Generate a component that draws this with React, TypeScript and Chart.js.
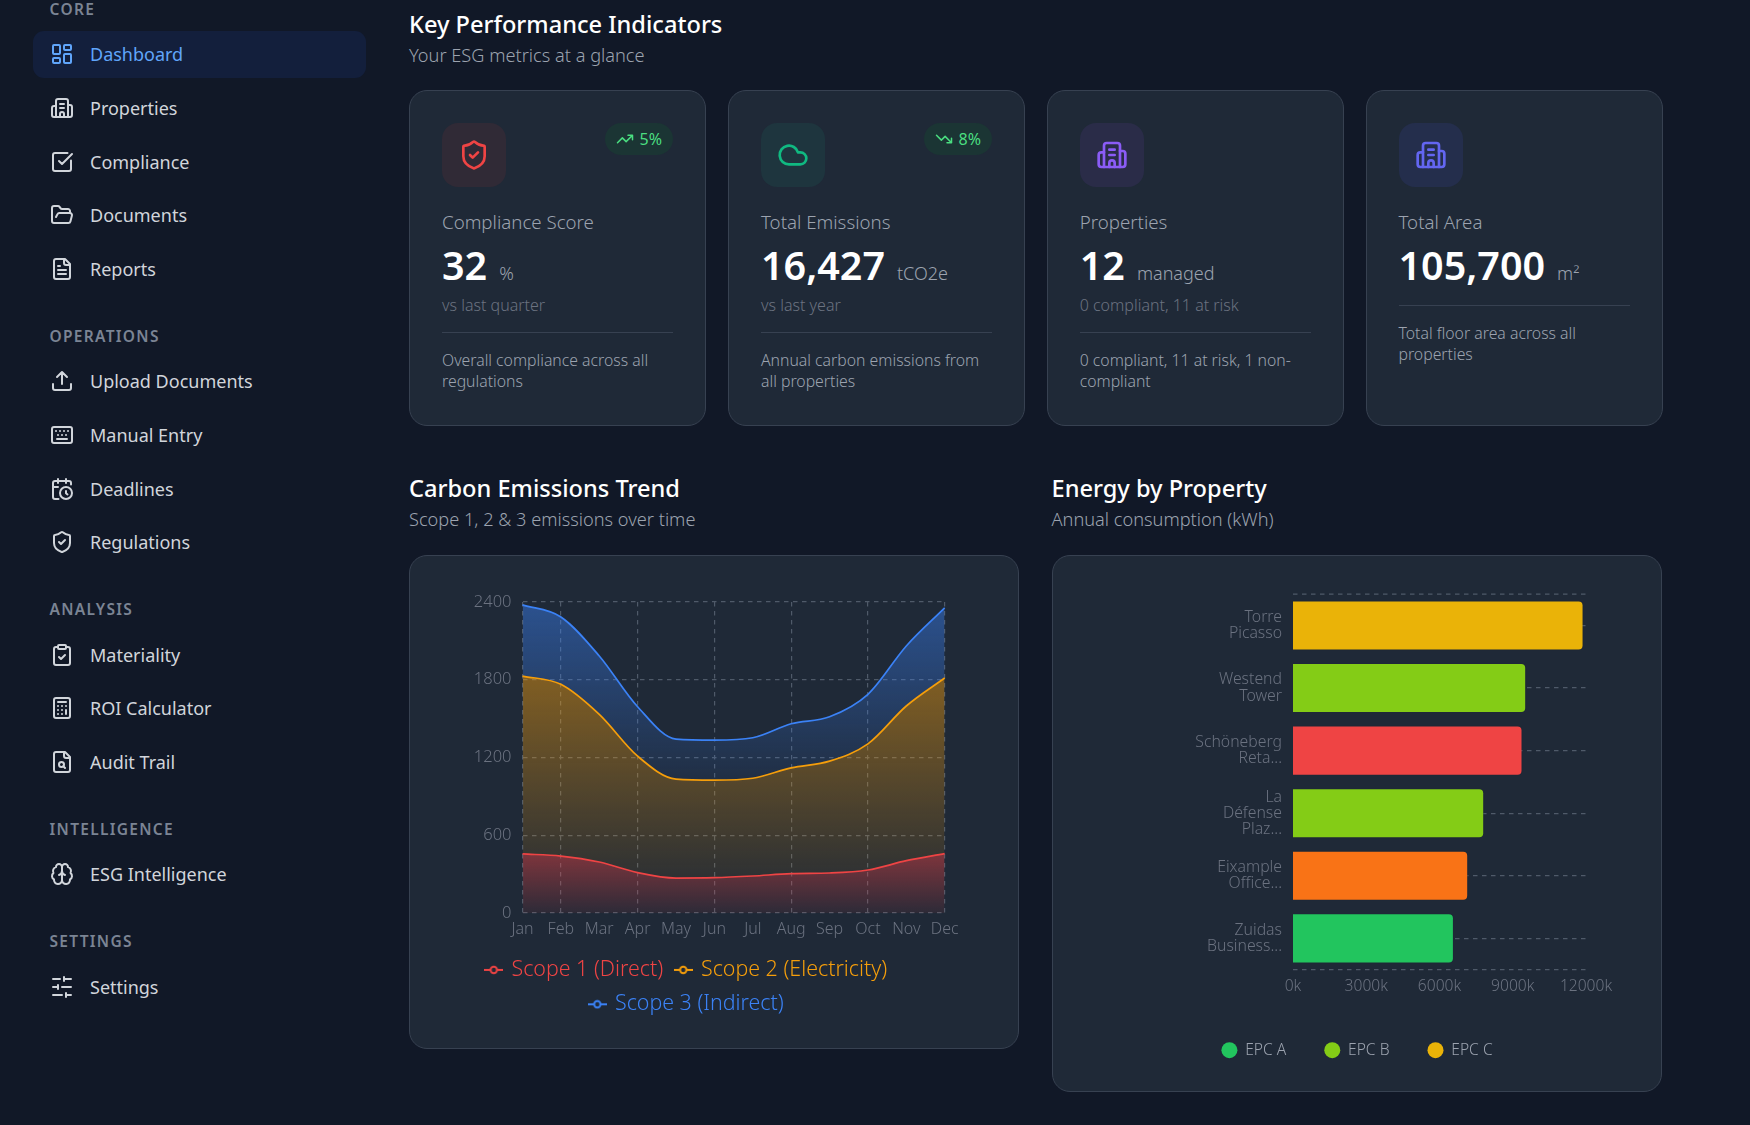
import React, { useEffect, useRef } from "react";
import { Chart, registerables } from "chart.js";

Chart.register(...registerables);

const FONT = '"Noto Sans", sans-serif';
Chart.defaults.font.family = FONT;

// carbon trend, tCO2e per month
const months = ["Jan", "Feb", "Mar", "Apr", "May", "Jun", "Jul", "Aug", "Sep", "Oct", "Nov", "Dec"];
const scope1 = [456, 440, 394, 312, 270, 273, 286, 304, 309, 332, 404, 458];
const scope2 = [1372, 1324, 1138, 898, 763, 752, 754, 816, 863, 973, 1193, 1355];
const scope3 = [549, 520, 451, 381, 309, 309, 312, 340, 342, 382, 463, 541];
const gridMonths = ["Jan", "Feb", "Apr", "Jun", "Aug", "Oct", "Dec"];

// energy per property, thousand kWh
const properties = [
  ["Torre", "Picasso"],
  ["Westend", "Tower"],
  ["Schöneberg", "Reta..."],
  ["La", "Défense", "Plaz..."],
  ["Eixample", "Office..."],
  ["Zuidas", "Business..."],
];
const energy = [11900, 9550, 9400, 7830, 7175, 6590];
const epcRatings = ["C", "B", "E", "B", "D", "A"];
const epcColors: Record<string, string> = {
  A: "#22c55e",
  B: "#84cc16",
  C: "#eab308",
  D: "#f97316",
  E: "#ef4444",
};
const epcLegend = ["A", "B", "C"];

const GRID = "#4f5a69";
const TICK = "#6b7280";
const DASH = [4.5, 4.5];

function legendIcon(color: string) {
  const c = document.createElement("canvas");
  c.width = 19;
  c.height = 10;
  const g = c.getContext("2d")!;
  g.strokeStyle = color;
  g.lineWidth = 2;
  g.beginPath();
  g.moveTo(0, 5);
  g.lineTo(19, 5);
  g.stroke();
  g.fillStyle = "#1f2937";
  g.beginPath();
  g.arc(9.5, 5, 3.2, 0, Math.PI * 2);
  g.fill();
  g.stroke();
  return c;
}

function hexA(hex: string, a: number) {
  const n = parseInt(hex.slice(1), 16);
  return `rgba(${n >> 16},${(n >> 8) & 255},${n & 255},${a})`;
}

// each area's gradient runs over its own band, from the top of the line to the lowest lower edge
function areaFill(color: string, upper: number[], lower: number[] | null) {
  return (ctx: any) => {
    const { chartArea, scales } = ctx.chart;
    if (!chartArea) return hexA(color, 0.3);
    const y0 = scales.y.getPixelForValue(Math.max(...upper));
    const y1 = scales.y.getPixelForValue(lower ? Math.min(...lower) : 0);
    const g = ctx.chart.ctx.createLinearGradient(0, y0, 0, y1);
    g.addColorStop(0, hexA(color, 0.46));
    g.addColorStop(1, hexA(color, 0.07));
    return g;
  };
}

function EmissionsChart() {
  const ref = useRef<HTMLCanvasElement>(null);
  useEffect(() => {
    const s2top = scope1.map((v, i) => v + scope2[i]);
    const s3top = s2top.map((v, i) => v + scope3[i]);
    const series = [
      { label: "Scope 1 (Direct)", data: scope1, color: "#ef4444", fill: "origin", bg: areaFill("#ef4444", scope1, null) },
      { label: "Scope 2 (Electricity)", data: scope2, color: "#f59e0b", fill: "-1", bg: areaFill("#f59e0b", s2top, scope1) },
      { label: "Scope 3 (Indirect)", data: scope3, color: "#3b82f6", fill: "-1", bg: areaFill("#3b82f6", s3top, s2top) },
    ];
    const chart = new Chart(ref.current!, {
      type: "line",
      data: {
        labels: months,
        datasets: series.map((s) => ({
          label: s.label,
          data: s.data,
          borderColor: s.color,
          backgroundColor: s.bg,
          fill: s.fill,
          borderWidth: 1.7,
          pointRadius: 0,
          cubicInterpolationMode: "monotone",
        })),
      },
      options: {
        responsive: false,
        animation: false,
        scales: {
          x: {
            grid: {
              color: (c: any) => (gridMonths.includes(months[c.index]) ? GRID : "transparent"),
              lineWidth: 1.2,
              tickColor: "transparent",
              tickLength: 5.6,
            },
            border: { display: false, dash: DASH },
            // empty title only keeps a gap between the month labels and the legend
            title: { display: true, text: " ", font: { size: 4.6 }, padding: 0 },
            ticks: { color: TICK, font: { size: 16, weight: 300 }, padding: 1.4, maxRotation: 0, autoSkip: false },
          },
          y: {
            stacked: true,
            min: 0,
            max: 2400,
            afterFit: (s: any) => {
              s.width = 108.5;
            },
            grid: { color: GRID, lineWidth: 1.2, drawTicks: false },
            border: { display: false, dash: DASH },
            ticks: { color: TICK, stepSize: 600, font: { size: 16.5, weight: 300 }, padding: 11, callback: (v: any) => `${v}` },
          },
        },
        plugins: {
          tooltip: { enabled: false },
          legend: {
            position: "bottom",
            labels: {
              padding: 13,
              usePointStyle: true,
              pointStyleWidth: 14,
              font: { size: 21.4, weight: 300 },
              generateLabels: () =>
                series.map((s, i) => ({
                  text: s.label,
                  fontColor: s.color,
                  pointStyle: legendIcon(s.color),
                  datasetIndex: i,
                  lineWidth: 0,
                })),
            },
          },
        },
      },
    } as any);
    return () => chart.destroy();
  }, []);
  return <canvas ref={ref} width={546} height={444} style={{ position: "absolute", left: 414, top: 581 }} />;
}

const edgeLines = {
  id: "edgeLines",
  beforeDatasetsDraw(chart: any) {
    const { ctx, chartArea } = chart;
    ctx.save();
    ctx.strokeStyle = GRID;
    ctx.lineWidth = 1.2;
    ctx.setLineDash(DASH);
    for (const y of [chartArea.top, chartArea.bottom]) {
      ctx.beginPath();
      ctx.moveTo(chartArea.left, y);
      ctx.lineTo(chartArea.right, y);
      ctx.stroke();
    }
    ctx.restore();
  },
};

function EnergyChart() {
  const ref = useRef<HTMLCanvasElement>(null);
  useEffect(() => {
    const chart = new Chart(ref.current!, {
      type: "bar",
      data: {
        labels: properties,
        datasets: [
          {
            label: "Energy",
            data: energy,
            backgroundColor: epcRatings.map((r) => epcColors[r]),
            borderColor: "rgba(31,41,55,0.45)",
            borderWidth: 1,
            borderRadius: { topRight: 5, bottomRight: 5 },
            borderSkipped: "left",
            barPercentage: 0.8,
            categoryPercentage: 1,
          },
        ],
      },
      options: {
        indexAxis: "y",
        responsive: false,
        animation: false,
        layout: { padding: { left: 43, right: 43 } },
        scales: {
          x: {
            min: 0,
            max: 12000,
            grid: { display: false, drawTicks: false },
            border: { display: false },
            ticks: {
              color: TICK,
              stepSize: 3000,
              font: { size: 15.6, weight: 300 },
              padding: 8,
              maxRotation: 0,
              callback: (v: any) => `${v}k`,
            },
          },
          y: {
            afterFit: (s: any) => {
              s.width = 165;
            },
            grid: { color: GRID, lineWidth: 1.2, offset: false, drawTicks: false },
            border: { display: false, dash: DASH },
            ticks: { color: TICK, font: { size: 15.8, weight: 300, lineHeight: 1.02 }, padding: 11, autoSkip: false },
          },
        },
        plugins: {
          tooltip: { enabled: false },
          legend: {
            position: "bottom",
            labels: {
              padding: 38,
              usePointStyle: true,
              pointStyleWidth: 16,
              boxHeight: 11.3,
              font: { size: 15.6, weight: 300 },
              generateLabels: () =>
                epcLegend.map((r) => ({
                  text: `EPC ${r}`,
                  fontColor: "#9ca3af",
                  fillStyle: epcColors[r],
                  strokeStyle: epcColors[r],
                  pointStyle: "circle",
                  lineWidth: 0,
                })),
            },
          },
        },
      },
      plugins: [edgeLines],
    } as any);
    return () => chart.destroy();
  }, []);
  return <canvas ref={ref} width={544} height={501} style={{ position: "absolute", left: 1085, top: 567 }} />;
}

const ICONS: Record<string, React.ReactNode> = {
  dashboard: (
    <>
      <rect x="3" y="3" width="7" height="9" rx="1" />
      <rect x="14" y="3" width="7" height="5" rx="1" />
      <rect x="14" y="12" width="7" height="9" rx="1" />
      <rect x="3" y="16" width="7" height="5" rx="1" />
    </>
  ),
  building: (
    <>
      <path d="M10 12h4M10 8h4M14 21v-3a2 2 0 0 0-4 0v3" />
      <path d="M6 10H4a2 2 0 0 0-2 2v7a2 2 0 0 0 2 2h16a2 2 0 0 0 2-2V11a2 2 0 0 0-2-2h-2" />
      <path d="M6 21V5a2 2 0 0 1 2-2h8a2 2 0 0 1 2 2v16" />
    </>
  ),
  check: <path d="M21 10.5V19a2 2 0 0 1-2 2H5a2 2 0 0 1-2-2V5a2 2 0 0 1 2-2h12.5M9 11l3 3L22 4" />,
  folder: (
    <path d="m6 14 1.5-2.9A2 2 0 0 1 9.24 10H20a2 2 0 0 1 1.94 2.5l-1.54 6a2 2 0 0 1-1.95 1.5H4a2 2 0 0 1-2-2V5a2 2 0 0 1 2-2h3.9a2 2 0 0 1 1.69.9l.81 1.2a2 2 0 0 0 1.67.9H18a2 2 0 0 1 2 2v2" />
  ),
  file: (
    <>
      <path d="M15 2H6a2 2 0 0 0-2 2v16a2 2 0 0 0 2 2h12a2 2 0 0 0 2-2V7Z" />
      <path d="M14 2v4a2 2 0 0 0 2 2h4M10 9H8M16 13H8M16 17H8" />
    </>
  ),
  upload: <path d="M21 15v4a2 2 0 0 1-2 2H5a2 2 0 0 1-2-2v-4M17 8l-5-5-5 5M12 3v12" />,
  keyboard: (
    <>
      <rect x="2" y="4" width="20" height="16" rx="2" />
      <path d="M6 8h.01M10 8h.01M14 8h.01M18 8h.01M8 12h.01M12 12h.01M16 12h.01M7 16h10" />
    </>
  ),
  calendar: (
    <>
      <path d="M21 7.5V6a2 2 0 0 0-2-2H5a2 2 0 0 0-2 2v14a2 2 0 0 0 2 2h3.5M16 2v4M8 2v4M3 10h5M17.5 17.5 16 16.3V14" />
      <circle cx="16" cy="16" r="6" />
    </>
  ),
  shield: (
    <path d="M20 13c0 5-3.5 7.5-7.66 8.95a1 1 0 0 1-.67-.01C7.5 20.5 4 18 4 13V6a1 1 0 0 1 1-1c2 0 4.5-1.2 6.24-2.72a1.17 1.17 0 0 1 1.52 0C14.51 3.81 17 5 19 5a1 1 0 0 1 1 1zM9 12l2 2 4-4" />
  ),
  clipboard: (
    <>
      <rect x="8" y="2" width="8" height="4" rx="1" />
      <path d="M16 4h2a2 2 0 0 1 2 2v14a2 2 0 0 1-2 2H6a2 2 0 0 1-2-2V6a2 2 0 0 1 2-2h2M9 14l2 2 4-4" />
    </>
  ),
  calculator: (
    <>
      <rect x="4" y="2" width="16" height="20" rx="2" />
      <path d="M8 6h8M16 14v4M16 10h.01M12 10h.01M8 10h.01M12 14h.01M8 14h.01M12 18h.01M8 18h.01" />
    </>
  ),
  search: (
    <>
      <path d="M15 2H6a2 2 0 0 0-2 2v16a2 2 0 0 0 2 2h12a2 2 0 0 0 2-2V7Z" />
      <path d="M14 2v4a2 2 0 0 0 2 2h4M13.3 16.3 15 18" />
      <circle cx="11.5" cy="14.5" r="2.5" />
    </>
  ),
  brain: (
    <>
      <path d="M12 5a3 3 0 1 0-5.997.125 4 4 0 0 0-2.526 5.77 4 4 0 0 0 .556 6.588A4 4 0 1 0 12 18Z" />
      <path d="M12 5a3 3 0 1 1 5.997.125 4 4 0 0 1 2.526 5.77 4 4 0 0 1-.556 6.588A4 4 0 1 1 12 18Z" />
      <path d="M15 13a4.5 4.5 0 0 1-3-4 4.5 4.5 0 0 1-3 4M12 9v9" />
    </>
  ),
  sliders: <path d="M21 4h-7M10 4H3M21 12h-9M8 12H3M21 20h-5M12 20H3M14 2v4M8 10v4M16 18v4" />,
  up: <path d="M22 7 13.5 15.5 8.5 10.5 2 17M16 7h6v6" />,
  down: <path d="M22 17 13.5 8.5 8.5 13.5 2 7M16 17h6v-6" />,
  cloud: <path d="M17.5 19H9a7 7 0 1 1 6.71-9h1.79a4.5 4.5 0 1 1 0 9Z" />,
};

function Icon({ name, size, color }: { name: string; size: number; color: string }) {
  return (
    <svg width={size} height={size} viewBox="0 0 24 24" fill="none" stroke={color} strokeWidth={2} strokeLinecap="round" strokeLinejoin="round" style={{ flex: "none", display: "block" }}>
      {ICONS[name]}
    </svg>
  );
}

const navSections: [string, [string, string][]][] = [
  ["CORE", [["Dashboard", "dashboard"], ["Properties", "building"], ["Compliance", "check"], ["Documents", "folder"], ["Reports", "file"]]],
  ["OPERATIONS", [["Upload Documents", "upload"], ["Manual Entry", "keyboard"], ["Deadlines", "calendar"], ["Regulations", "shield"]]],
  ["ANALYSIS", [["Materiality", "clipboard"], ["ROI Calculator", "calculator"], ["Audit Trail", "search"]]],
  ["INTELLIGENCE", [["ESG Intelligence", "brain"]]],
  ["SETTINGS", [["Settings", "sliders"]]],
];

function Sidebar() {
  return (
    <div style={{ position: "absolute", left: 33, top: -1, width: 333 }}>
      {navSections.map(([title, items]) => (
        <div key={title} style={{ marginBottom: 33.2 }}>
          <div style={{ height: 20, lineHeight: "20px", marginLeft: 16.5, marginBottom: 11.7, fontSize: 15.5, fontWeight: 600, letterSpacing: 1.3, color: "#7b8494" }}>{title}</div>
          {items.map(([label, icon]) => {
            const active = label === "Dashboard";
            return (
              <div
                key={label}
                style={{
                  height: 47.6,
                  marginBottom: 6,
                  display: "flex",
                  alignItems: "center",
                  paddingLeft: 17,
                  gap: 16,
                  borderRadius: 11,
                  background: active ? "#131f3c" : "transparent",
                  color: active ? "#60a5fa" : "#d1d5db",
                  fontSize: 18,
                }}
              >
                <Icon name={icon} size={24} color={active ? "#60a5fa" : "#d1d5db"} />
                {label}
              </div>
            );
          })}
        </div>
      ))}
    </div>
  );
}

const kpis = [
  { label: "Compliance Score", value: "32", unit: "%", sub: "vs last quarter", desc: "Overall compliance across all regulations", icon: "shield", color: "#ef4444", tile: "#302a36", trend: ["up", "5%"] },
  { label: "Total Emissions", value: "16,427", unit: "tCO2e", sub: "vs last year", desc: "Annual carbon emissions from all properties", icon: "cloud", color: "#10b981", tile: "#1e353e", trend: ["down", "8%"] },
  { label: "Properties", value: "12", unit: "managed", sub: "0 compliant, 11 at risk", desc: "0 compliant, 11 at risk, 1 non-compliant", icon: "building", color: "#8b5cf6", tile: "#2a2c48", trend: null },
  { label: "Total Area", value: "105,700", unit: "m²", sub: "", desc: "Total floor area across all properties", icon: "building", color: "#6366f1", tile: "#242e4c", trend: null },
];

const card: React.CSSProperties = {
  position: "absolute",
  boxSizing: "border-box",
  background: "#1f2937",
  border: "1px solid #374151",
  borderRadius: 18,
};

function KpiCard({ kpi, left }: { kpi: (typeof kpis)[number]; left: number }) {
  return (
    <div style={{ ...card, left, top: 90, width: 297, height: 336, padding: "32px 32px 0" }}>
      <div style={{ display: "flex", justifyContent: "space-between", alignItems: "flex-start" }}>
        <div style={{ width: 64, height: 64, borderRadius: 16, background: kpi.tile, display: "flex", alignItems: "center", justifyContent: "center" }}>
          <Icon name={kpi.icon} size={32} color={kpi.color} />
        </div>
        {kpi.trend && (
          <div style={{ height: 32, borderRadius: 16, background: "#1b3534", padding: "0 11px", display: "flex", alignItems: "center", gap: 6, color: "#4ade80", fontSize: 16 }}>
            <Icon name={kpi.trend[0]} size={18} color="#4ade80" />
            {kpi.trend[1]}
          </div>
        )}
      </div>
      <div style={{ marginTop: 24, height: 22, lineHeight: "22px", fontSize: 18.7, fontWeight: 300, color: "#9ca3af" }}>{kpi.label}</div>
      <div style={{ marginTop: 9, height: 46, display: "flex", alignItems: "baseline", gap: 12, lineHeight: "46px" }}>
        <span style={{ fontSize: 39.5, fontWeight: 600, color: "#fff" }}>{kpi.value}</span>
        <span style={{ fontSize: 18, fontWeight: 300, color: "#9ca3af" }}>{kpi.unit}</span>
      </div>
      {kpi.sub && <div style={{ marginTop: 7, height: 20, lineHeight: "20px", fontSize: 16, fontWeight: 300, color: "#6b7280" }}>{kpi.sub}</div>}
      <div style={{ marginTop: 17, height: 1, background: "#374151" }} />
      <div style={{ marginTop: 17, fontSize: 15.8, lineHeight: "21.3px", fontWeight: 300, color: "#9ca3af" }}>{kpi.desc}</div>
    </div>
  );
}

function Heading({ left, top, title, sub }: { left: number; top: number; title: string; sub: string }) {
  return (
    <>
      <div style={{ position: "absolute", left, top: top - 16, height: 32, lineHeight: "32px", fontSize: 23.6, fontWeight: 500, color: "#fff", whiteSpace: "nowrap" }}>{title}</div>
      <div style={{ position: "absolute", left, top: top + 31 - 12, height: 24, lineHeight: "24px", fontSize: 18.2, fontWeight: 300, color: "#9ca3af", whiteSpace: "nowrap" }}>{sub}</div>
    </>
  );
}

export default function App() {
  return (
    <div style={{ position: "relative", width: 1750, height: 1125, overflow: "hidden", background: "#111827", fontFamily: FONT }}>
      <style>{"body{margin:0;background:#111827}"}</style>
      <Sidebar />
      <Heading left={409} top={24} title="Key Performance Indicators" sub="Your ESG metrics at a glance" />
      {kpis.map((k, i) => (
        <KpiCard key={k.label} kpi={k} left={[409, 728, 1046.7, 1365.5][i]} />
      ))}
      <Heading left={409} top={488} title="Carbon Emissions Trend" sub="Scope 1, 2 & 3 emissions over time" />
      <Heading left={1051.5} top={488} title="Energy by Property" sub="Annual consumption (kWh)" />
      <div style={{ ...card, left: 409, top: 554.5, width: 610, height: 494.5 }} />
      <div style={{ ...card, left: 1051.5, top: 554.5, width: 610.5, height: 537.5 }} />
      <EmissionsChart />
      <EnergyChart />
    </div>
  );
}
